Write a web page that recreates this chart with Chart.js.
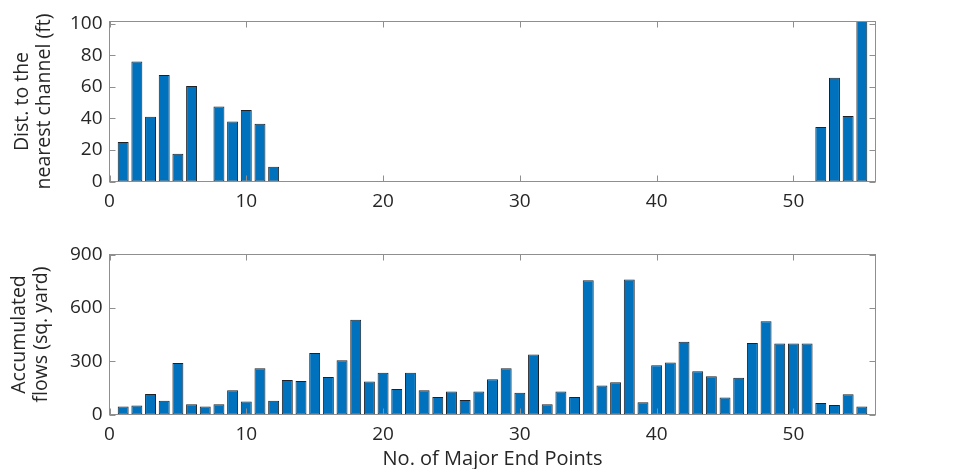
<!DOCTYPE html>
<html>
<head>
<meta charset="utf-8">
<script src="https://cdn.jsdelivr.net/npm/chart.js@4/dist/chart.umd.min.js"></script>
<style>
  html, body { margin: 0; padding: 0; background: #fff; }
  .panel { position: absolute; left: 0; }
  #top-panel { top: 0; }
  #bottom-panel { top: 230px; }
</style>
</head>
<body>
<div class="panel" id="top-panel"><canvas id="chart-dist" width="959" height="230"></canvas></div>
<div class="panel" id="bottom-panel"><canvas id="chart-flows" width="959" height="239"></canvas></div>
<script>
// ── Data ──────────────────────────────────────────────────
const endPoints = [
  1, 2, 3, 4, 5, 6, 7, 8, 9, 10, 11, 12, 13, 14, 15, 16, 17, 18, 19, 20,
  21, 22, 23, 24, 25, 26, 27, 28, 29, 30, 31, 32, 33, 34, 35, 36, 37, 38, 39, 40,
  41, 42, 43, 44, 45, 46, 47, 48, 49, 50, 51, 52, 53, 54, 55
];

// distance to nearest channel (ft); last point runs off the top of the axis
const distFt = [
  25, 76, 41, 67.5, 17.5, 60.5, 0, 47.5, 38, 45.3, 36.6, 9.3, 0, 0, 0, 0, 0, 0, 0, 0,
  0, 0, 0, 0, 0, 0, 0, 0, 0, 0, 0, 0, 0, 0, 0, 0, 0, 0, 0, 0,
  0, 0, 0, 0, 0, 0, 0, 0, 0, 0, 0, 34.5, 65.7, 41.5, 110
];

// accumulated flows (sq. yard)
const flowsSqYd = [
  45, 50, 115, 78, 290, 58, 45, 58, 136, 73, 260, 78, 194, 189, 346, 211, 305, 533, 185, 235,
  144, 235, 136, 99, 129, 82, 129, 198, 260, 123, 338, 58, 129, 99, 755, 163, 181, 760, 69, 277,
  292, 409, 243, 215, 95, 207, 402, 525, 400, 400, 400, 65, 54, 114, 45
];

const xTicks     = [0, 10, 20, 30, 40, 50];
const distTicks  = [0, 20, 40, 60, 80, 100];
const flowTicks  = [0, 300, 600, 900];

// ── Style ─────────────────────────────────────────────────
const BAR_BLUE  = '#0072BD';
const BAR_EDGE  = '#1e2226';
const AXIS_GREY = '#8f8f8f';
const TEXT      = '#262626';
const FONT      = '"Open Sans", Lato, sans-serif';
const TICK_LEN  = 6;

// box round the plot area with inward ticks on all four sides
const framePlugin = {
  id: 'frame',
  afterDatasetsDraw(chart) {
    const { ctx, chartArea: a, scales: { x, y } } = chart;
    ctx.save();
    ctx.strokeStyle = AXIS_GREY;
    ctx.lineWidth = 1;
    ctx.strokeRect(a.left, a.top, a.right - a.left, a.bottom - a.top);
    ctx.beginPath();
    x.ticks.forEach(t => {
      const px = Math.round(x.getPixelForValue(t.value)) + 0.5;
      ctx.moveTo(px, a.bottom); ctx.lineTo(px, a.bottom - TICK_LEN);
      ctx.moveTo(px, a.top);    ctx.lineTo(px, a.top + TICK_LEN);
    });
    y.ticks.forEach(t => {
      const py = Math.round(y.getPixelForValue(t.value)) + 0.5;
      ctx.moveTo(a.left, py);  ctx.lineTo(a.left + TICK_LEN, py);
      ctx.moveTo(a.right, py); ctx.lineTo(a.right - TICK_LEN, py);
    });
    ctx.stroke();
    ctx.restore();
  }
};

function makeBarChart(id, values, cfg) {
  return new Chart(document.getElementById(id), {
    type: 'bar',
    data: {
      datasets: [{
        data: endPoints.map((p, i) => ({ x: p, y: values[i] })),
        backgroundColor: BAR_BLUE,
        borderColor: BAR_EDGE,
        borderWidth: 1,
        borderSkipped: false,
        barPercentage: 0.8,
        categoryPercentage: 1
      }]
    },
    options: {
      responsive: false,
      animation: false,
      devicePixelRatio: 1,
      layout: { padding: { top: cfg.top, right: 83.5, bottom: 0, left: 0 } },
      plugins: { legend: { display: false }, tooltip: { enabled: false } },
      scales: {
        x: {
          type: 'linear',
          min: 0, max: 56,
          offset: false,
          grid: { display: false, drawTicks: false },
          border: { display: false },
          afterBuildTicks: s => { s.ticks = xTicks.map(v => ({ value: v })); },
          afterFit: s => { s.height = cfg.xHeight; },
          ticks: { autoSkip: false, maxRotation: 0, padding: 9, color: TEXT, font: { family: FONT, size: 19 } },
          title: cfg.xTitle
            ? { display: true, text: cfg.xTitle, color: TEXT, padding: 0, font: { family: FONT, size: 20, lineHeight: 1 } }
            : { display: false }
        },
        y: {
          min: 0, max: cfg.yMax,
          grid: { display: false, drawTicks: false },
          border: { display: false },
          afterBuildTicks: s => { s.ticks = cfg.yTicks.map(v => ({ value: v })); },
          afterFit: s => { s.width = 109.5; },
          ticks: { padding: 7, color: TEXT, font: { family: FONT, size: 19 } },
          title: {
            display: true, text: cfg.yTitle, color: TEXT,
            padding: { top: cfg.yTitlePad, bottom: 0 },
            font: { family: FONT, size: 19.5, lineHeight: 1.15 }
          }
        }
      }
    },
    plugins: [framePlugin]
  });
}

// ── Top: distance to channel ──────────────────────────────
makeBarChart('chart-dist', distFt, {
  top: 21.5,
  xHeight: 48.5,
  yMax: 101.3,
  yTicks: distTicks,
  yTitle: ['Dist. to the', 'nearest channel (ft)'],
  yTitlePad: 11,
});

// ── Bottom: accumulated flows ─────────────────────────────
makeBarChart('chart-flows', flowsSqYd, {
  top: 24.5,
  xHeight: 54.5,
  yMax: 900,
  yTicks: flowTicks,
  yTitle: ['Accumulated', 'flows (sq. yard)'],
  yTitlePad: 8,
  xTitle: 'No. of Major End Points'
});
</script>
</body>
</html>
